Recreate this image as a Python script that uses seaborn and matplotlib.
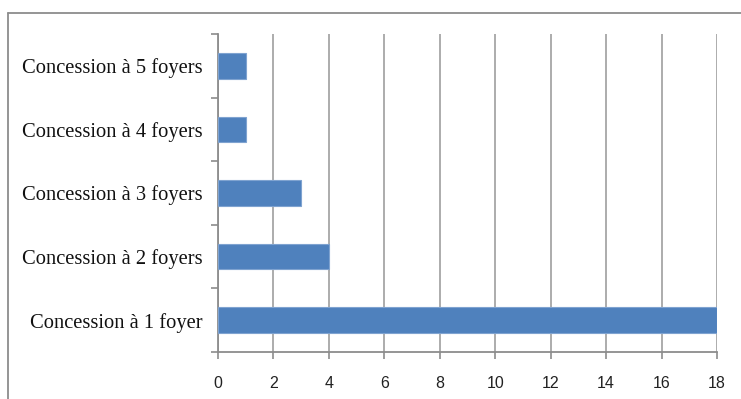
import matplotlib
matplotlib.use("Agg")
import matplotlib.pyplot as plt
import seaborn as sns
import pandas as pd
from matplotlib.lines import Line2D
from matplotlib.ticker import FixedLocator

categories = ["Concession à 5 foyers", "Concession à 4 foyers", "Concession à 3 foyers",
              "Concession à 2 foyers", "Concession à 1 foyer"]
values = [1, 1, 3, 4, 18]
xticks = [0, 2, 4, 6, 8, 10, 12, 14, 16, 18]

df = pd.DataFrame({"cat": categories, "val": values})

sns.set_theme(style="white")
fig = plt.figure(figsize=(7.41, 3.99), dpi=100)
ax = fig.add_axes([218/741, 1-352/399, (717-218)/741, (352-34)/399])

sns.barplot(data=df, x="val", y="cat", order=categories, orient="h",
            color="#4F81BD", saturation=1, width=0.4, ax=ax, zorder=3,
            edgecolor="#7fa3d0", linewidth=0.8)

ax.set_xlim(0, 18)
ax.set_ylim(4.5, -0.5)
ax.set_xticks(xticks)
ax.set_xticklabels([str(t) for t in xticks], family="Liberation Sans", fontsize=11.5, color="#222222")
ax.set_yticks(range(len(categories)))
ax.set_yticklabels(categories, family="Liberation Serif", fontsize=14.8, color="#111111")
ax.yaxis.set_minor_locator(FixedLocator([i - 0.5 for i in range(len(categories) + 1)]))
ax.tick_params(axis="y", which="major", length=0, pad=11)
ax.tick_params(axis="y", which="minor", length=5, width=1.2, color="#8c8c8c", left=True)
ax.tick_params(axis="x", which="major", length=5, width=1.2, color="#8c8c8c", bottom=True, pad=12)
ax.set_xlabel("")
ax.set_ylabel("")

ax.grid(axis="x", color="#a6a6a6", linewidth=1.3, zorder=0)
ax.set_axisbelow(True)
for s in ["top", "right"]:
    ax.spines[s].set_visible(False)
for s in ["left", "bottom"]:
    ax.spines[s].set_color("#8c8c8c")
    ax.spines[s].set_linewidth(1.3)

# outer chart frame (partially visible)
fig.add_artist(Line2D([8/741, 1.0], [1-13/399, 1-13/399], transform=fig.transFigure,
                      color="#8c8c8c", linewidth=1.3))
fig.add_artist(Line2D([8/741, 8/741], [0.0, 1-13/399], transform=fig.transFigure,
                      color="#8c8c8c", linewidth=1.3))

fig.savefig("out.png", dpi=100)
